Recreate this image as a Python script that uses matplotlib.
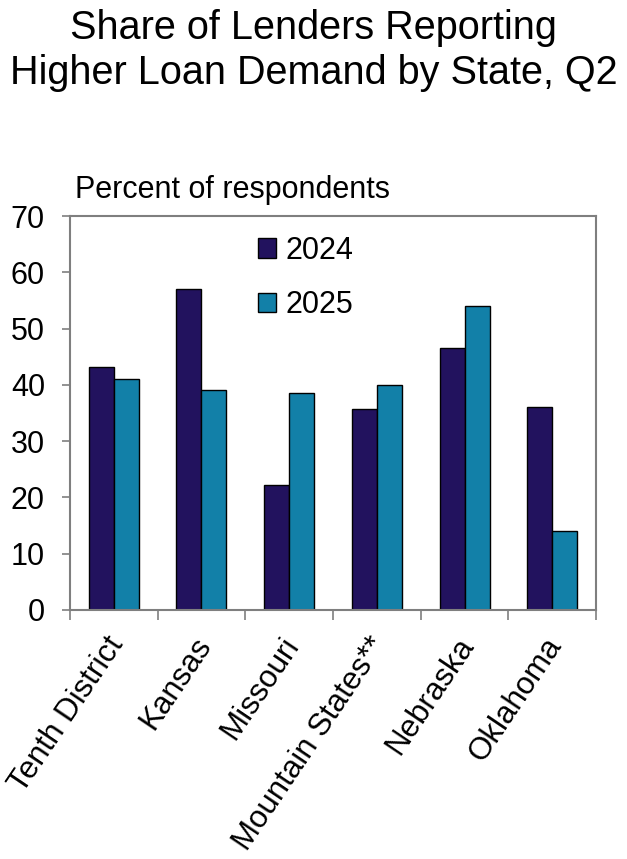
import numpy as np
import matplotlib
matplotlib.use("Agg")
from matplotlib import pyplot as plt
from matplotlib.transforms import ScaledTranslation

plt.rcParams['font.family'] = ['Liberation Sans', 'DejaVu Sans']

categories = ["Tenth District", "Kansas", "Missouri", "Mountain States**", "Nebraska", "Oklahoma"]
y2024 = [43.2, 57.1, 22.2, 35.8, 46.5, 36.1]
y2025 = [41.0, 39.1, 38.5, 40.0, 54.1, 14.1]

c2024 = "#22125e"
c2025 = "#1280a8"
spine_gray = "#7f7f7f"

fig = plt.figure(figsize=(6.27, 8.59), dpi=100)
ax = fig.add_axes([0.1116, 0.2899, 0.839, 0.4586])

x = np.arange(len(categories))
w = 0.285
ax.bar(x - w / 2, y2024, w, color=c2024, edgecolor="black", linewidth=1.0, label="2024")
ax.bar(x + w / 2, y2025, w, color=c2025, edgecolor="black", linewidth=1.0, label="2025")

ax.set_xlim(-0.5, len(categories) - 0.5)
ax.set_ylim(0, 70)
ax.set_yticks(range(0, 71, 10))
ax.tick_params(axis="y", labelsize=22, length=6, width=1.2, color=spine_gray, pad=12)

# category ticks sit on the group boundaries, labels at the centres
ax.set_xticks(np.arange(-0.5, len(categories), 1.0))
ax.set_xticklabels([])
ax.set_xticks(x, minor=True)
labels = ax.set_xticklabels(categories, minor=True, rotation=56, ha="right", va="top",
                            rotation_mode="anchor", fontsize=22.5)
ax.tick_params(axis="x", which="major", length=7, width=1.2, color=spine_gray)
ax.tick_params(axis="x", which="minor", length=0, pad=12)
shift = ScaledTranslation(-9 / 100, -5 / 100, fig.dpi_scale_trans)
for lab in labels:
    lab.set_transform(lab.get_transform() + shift)

for s in ax.spines.values():
    s.set_color(spine_gray)
    s.set_linewidth(1.5)

ax.legend(loc="upper left", bbox_to_anchor=(0.357, 0.95), frameon=False, fontsize=22,
          borderaxespad=0, borderpad=0, handlelength=0.6, handleheight=0.6,
          handletextpad=0.3, labelspacing=0.8)

fig.text(0.5, 0.99, "Share of Lenders Reporting\nHigher Loan Demand by State, Q2",
         ha="center", va="top", fontsize=28.5, linespacing=1.25)
fig.text(0.12, 0.779, "Percent of respondents", ha="left", va="center", fontsize=22)

fig.savefig("out.png", dpi=100)
